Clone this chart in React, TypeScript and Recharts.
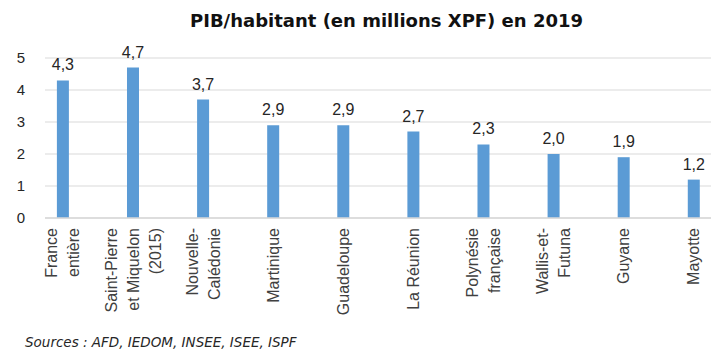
import React from 'react';
import { BarChart, Bar, XAxis, YAxis, CartesianGrid, LabelList } from 'recharts';

// territoires (retour a la ligne = \n) et PIB/habitant en millions XPF
const territoires = [
  'France\nentière',
  'Saint-Pierre\net Miquelon\n(2015)',
  'Nouvelle-\nCalédonie',
  'Martinique',
  'Guadeloupe',
  'La Réunion',
  'Polynésie\nfrançaise',
  'Wallis-et-\nFutuna',
  'Guyane',
  'Mayotte',
];
const pibHabitant = [4.3, 4.7, 3.7, 2.9, 2.9, 2.7, 2.3, 2.0, 1.9, 1.2];
const yTicks = [0, 1, 2, 3, 4, 5];

const data = territoires.map((nom, i) => ({ idx: i, nom, pib: pibHabitant[i] }));

const AXIS_FONT = '"Liberation Sans", Arial, sans-serif';

const TerritoireTick = (props: any) => {
  const { x, y, payload } = props;
  const lines = territoires[payload.value].split('\n');
  const lh = 22;
  return (
    <g transform={`translate(${x},${y + 2}) rotate(-90)`}>
      <text textAnchor="end" fontSize={16} fontFamily={AXIS_FONT} fill="#404040">
        {lines.map((l, i) => (
          <tspan key={i} x={0} y={(i - (lines.length - 1) / 2) * lh + 5.5}>
            {l}
          </tspan>
        ))}
      </text>
    </g>
  );
};

const fmt = (v: any) => Number(v).toFixed(1).replace('.', ',');

export default function App() {
  return (
    <div style={{ position: 'absolute', left: 0, top: 0, width: 725, height: 358, background: '#fff' }}>
      <div
        style={{
          position: 'absolute',
          left: 190,
          top: 10,
          whiteSpace: 'nowrap',
          fontFamily: '"DejaVu Sans", sans-serif',
          fontWeight: 'bold',
          fontSize: 18,
          color: '#111',
        }}
      >
        PIB/habitant (en millions XPF) en 2019
      </div>
      <BarChart
        width={725}
        height={358}
        data={data}
        margin={{ top: 58, right: 14, left: 0, bottom: 0 }}
      >
        <CartesianGrid vertical={false} stroke="#d9d9d9" />
        <XAxis
          type="number"
          dataKey="idx"
          domain={[-0.256, 9.245]}
          ticks={[0, 1, 2, 3, 4, 5, 6, 7, 8, 9]}
          allowDataOverflow
          interval={0}
          height={140}
          tickLine={false}
          axisLine={{ stroke: '#d9d9d9', strokeWidth: 1.5 }}
          tick={<TerritoireTick />}
        />
        <YAxis
          domain={[0, 5]}
          ticks={yTicks}
          width={45}
          axisLine={false}
          tickLine={false}
          tickMargin={14}
          tick={{ fontSize: 15, fontFamily: AXIS_FONT, fill: '#262626' }}
        />
        <Bar dataKey="pib" fill="#5b9bd5" barSize={12} isAnimationActive={false}>
          <LabelList
            dataKey="pib"
            position="top"
            offset={10}
            formatter={fmt}
            style={{ fontSize: 16, fontFamily: AXIS_FONT, fill: '#262626' }}
          />
        </Bar>
      </BarChart>
      <div
        style={{
          position: 'absolute',
          left: 25,
          top: 334,
          whiteSpace: 'nowrap',
          fontFamily: '"DejaVu Sans", sans-serif',
          fontStyle: 'italic',
          fontSize: 13.5,
          color: '#262626',
        }}
      >
        Sources : AFD, IEDOM, INSEE, ISEE, ISPF
      </div>
    </div>
  );
}
